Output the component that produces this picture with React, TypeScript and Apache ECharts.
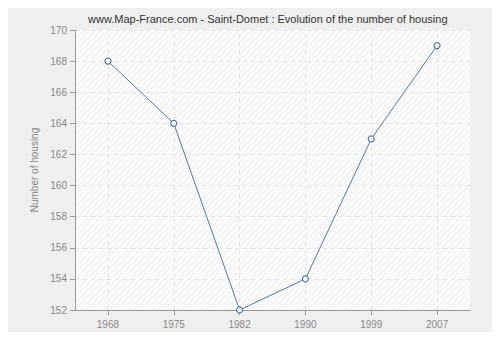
import React, { useEffect, useRef } from "react";
import * as echarts from "echarts";

const titleText = "www.Map-France.com - Saint-Domet : Evolution of the number of housing";
const years = ["1968", "1975", "1982", "1990", "1999", "2007"];
const housing = [168, 164, 152, 154, 163, 169];
const yMin = 152;
const yMax = 170;
const yStep = 2;
const yName = "Number of housing";

function makePattern(): HTMLCanvasElement {
  const c = document.createElement("canvas");
  c.width = 6;
  c.height = 6;
  const ctx = c.getContext("2d")!;
  ctx.fillStyle = "#fafafa";
  ctx.fillRect(0, 0, 6, 6);
  ctx.strokeStyle = "#eeeeee";
  ctx.lineWidth = 1;
  ctx.beginPath();
  ctx.moveTo(-1, 7);
  ctx.lineTo(7, -1);
  ctx.moveTo(-1, 1);
  ctx.lineTo(1, -1);
  ctx.moveTo(5, 7);
  ctx.lineTo(7, 5);
  ctx.stroke();
  return c;
}

const FONT = "Liberation Sans";

export default function App() {
  const ref = useRef<HTMLDivElement>(null);
  useEffect(() => {
    if (!ref.current) return;
    const chart = echarts.init(ref.current, null, { renderer: "svg" });
    const pattern = makePattern();
    chart.setOption({
      animation: false,
      backgroundColor: "transparent",
      graphic: [
        {
          type: "rect",
          left: 4,
          top: 4,
          z: -10,
          shape: { width: 491, height: 331, r: 6 },
          style: { fill: "#efefef", stroke: "#dcdcdc", lineWidth: 1 },
        },
      ],
      title: {
        text: titleText,
        left: 88,
        top: 13,
        padding: 0,
        textStyle: { fontFamily: FONT, fontSize: 11, fontWeight: "normal", color: "#333" },
      },
      grid: {
        left: 75,
        right: 30,
        top: 30,
        bottom: 30,
        show: true,
        backgroundColor: { image: pattern, repeat: "repeat" } as any,
        borderWidth: 0,
      },
      xAxis: {
        type: "category",
        data: years,
        boundaryGap: true,
        axisLine: { lineStyle: { color: "#999", width: 1 } },
        axisTick: { show: true, alignWithLabel: true, length: 5, lineStyle: { color: "#999" } },
        axisLabel: { color: "#888", fontFamily: FONT, fontSize: 10, margin: 9 },
        splitLine: { show: false },
      },
      yAxis: {
        type: "value",
        min: yMin,
        max: yMax,
        interval: yStep,
        name: yName,
        nameLocation: "middle",
        nameGap: 34,
        nameTextStyle: { color: "#888", fontFamily: FONT, fontSize: 10 },
        axisLine: { show: true, lineStyle: { color: "#999", width: 1 } },
        axisTick: { show: true, length: 5, lineStyle: { color: "#999" } },
        axisLabel: { color: "#888", fontFamily: FONT, fontSize: 10, margin: 8 },
        splitLine: { show: true, lineStyle: { color: "#e4e4e4", type: [4, 4], width: 1 } },
      },
      series: [
        {
          type: "line",
          data: [],
          silent: true,
          z: 1,
          markLine: {
            silent: true,
            symbol: "none",
            label: { show: false },
            lineStyle: { color: "#e4e4e4", type: [4, 4], width: 1 },
            data: years.map((y) => ({ xAxis: y })),
          },
        },
        {
          type: "line",
          data: housing,
          z: 5,
          symbol: "circle",
          symbolSize: 6,
          showSymbol: true,
          lineStyle: { color: "#4f7aab", width: 1 },
          itemStyle: { color: "#ffffff", borderColor: "#4f7aab", borderWidth: 1.2 },
        },
      ],
    });
    return () => chart.dispose();
  }, []);
  return <div ref={ref} style={{ width: 500, height: 340, margin: -8 }} />;
}
